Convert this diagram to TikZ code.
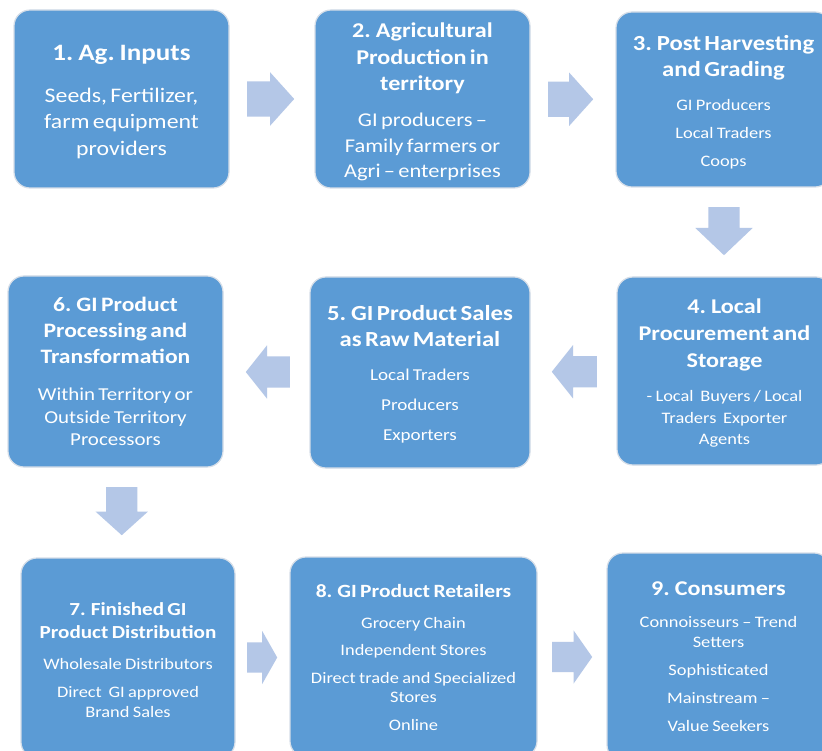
\documentclass[tikz,border=0pt]{standalone}
\usepackage{fontspec}
\setmainfont{Carlito}[FakeStretch=1.15]
\usetikzlibrary{shapes.arrows, positioning, calc}

\definecolor{stageblue}{HTML}{5B9BD5}
\definecolor{arrowblue}{HTML}{B4C7E7}
\definecolor{stageedge}{HTML}{D6DEE8}

\tikzset{
	stage/.style={rectangle, rounded corners=16pt, fill=stageblue, draw=stageedge, line width=1.2pt,
		text=white, align=center, inner sep=0pt, execute at begin node=\setlength{\parindent}{0pt}},
	flowarrow/.style={single arrow, fill=arrowblue, draw=none, inner xsep=0pt, inner ysep=17.5pt,
		minimum width=0pt, single arrow head extend=9pt, single arrow tip angle=96, anchor=tail}
}

\begin{document}
\begin{tikzpicture}[x=1pt, y=-1pt]
			\fill[white] (0,0) rectangle (822,751);
			\useasboundingbox (0,0) rectangle (822,751);
			
			% Row 1
			\node[stage, minimum width=215pt, minimum height=178pt, text width=205pt] (inputs) at (121.5, 99) {%
				{\fontsize{23.5}{26.5}\selectfont\bfseries 1. Ag. Inputs\par}\vspace{15.5pt}
				{\fontsize{20.7}{26.5}\selectfont Seeds, Fertilizer,\\ farm equipment\\ providers\par}\vspace{-6pt}};
			\node[stage, minimum width=215pt, minimum height=178pt, text width=205pt] (production) at (422.5, 99) {%
				{\fontsize{21}{26.5}\selectfont\bfseries 2. Agricultural\\ Production in\\ territory\par}\vspace{10.5pt}
				{\fontsize{19.5}{25.5}\selectfont GI producers –\\ Family farmers or\\ Agri – enterprises\par}\vspace{-6pt}};
			\node[stage, minimum width=215pt, minimum height=175pt, text width=205pt] (harvest) at (723.5, 99.5) {%
				{\fontsize{21.5}{26}\selectfont\bfseries 3. Post Harvesting\\ and Grading\par}\vspace{14.5pt}
				{\fontsize{16}{19.5}\selectfont GI Producers\par\vspace{8.5pt}Local Traders\par\vspace{8.5pt}Coops\par}\vspace{-6pt}};
			
			% Row 2
			\node[stage, minimum width=215pt, minimum height=188pt, text width=205pt] (storage) at (724.5, 371) {%
				{\fontsize{21}{27}\selectfont\bfseries 4. Local\\ Procurement and\\ Storage\par}\vspace{12.5pt}
				{\fontsize{16}{21.5}\selectfont - Local~ Buyers / Local\\ Traders~ Exporter\\ Agents\par}\vspace{-5pt}};
			\node[stage, minimum width=220pt, minimum height=191pt, text width=210pt] (rawsales) at (420, 372.5) {%
				{\fontsize{21.5}{26}\selectfont\bfseries 5. GI Product Sales\\ as Raw Material\par}\vspace{14pt}
				{\fontsize{16.6}{20}\selectfont Local Traders\par\vspace{10pt}Producers\par\vspace{10pt}Exporters\par}\vspace{-3pt}};
			\node[stage, minimum width=215pt, minimum height=191pt, text width=205pt] (processing) at (115.5, 371.5) {%
				{\fontsize{20.5}{26}\selectfont\bfseries 6. GI Product\\ Processing and\\ Transformation\par}\vspace{14.5pt}
				{\fontsize{18.2}{22.5}\selectfont Within Territory or\\ Outside Territory\\ Processors\par}};
			
			% Row 3
			\node[stage, minimum width=214pt, minimum height=200pt, text width=204pt] (distribution) at (128, 658) {%
				{\fontsize{18.4}{23}\selectfont\bfseries 7. Finished GI\\ Product Distribution\par}\vspace{11pt}
				{\fontsize{16}{20}\selectfont Wholesale Distributors\par\vspace{8pt}Direct~ GI approved\\ Brand Sales\par}\vspace{-5pt}};
			\node[stage, minimum width=247pt, minimum height=200pt, text width=237pt] (retail) at (413.5, 657) {%
				{\fontsize{18.7}{23}\selectfont\bfseries 8. GI Product Retailers\par}\vspace{11.5pt}
				{\fontsize{16}{19.5}\selectfont Grocery Chain\par\vspace{8pt}Independent Stores\par\vspace{8pt}%
				Direct trade and Specialized\\ Stores\par\vspace{8pt}Online\par}};
			\node[stage, minimum width=223pt, minimum height=208pt, text width=213pt] (consumers) at (718.5, 657) {%
				{\fontsize{21}{25}\selectfont\bfseries 9. Consumers\par}\vspace{12pt}
				{\fontsize{16}{20}\selectfont Connoisseurs – Trend\\ Setters\par\vspace{8pt}Sophisticated\par\vspace{8pt}%
				Mainstream –\par\vspace{8pt}Value Seekers\par}};
			
			% Block arrows between the stages (placed by their tails)
			\node[flowarrow, minimum height=47pt] (a12) at ($(inputs.east)!0.5!(production.west) + (-25,0)$) {};
			\node[flowarrow, minimum height=45pt] (a23) at ($(production.east)!0.5!(harvest.west) + (-25,0)$) {};
			\node[flowarrow, minimum height=48pt, inner ysep=15.5pt, single arrow head extend=13pt,
				single arrow tip angle=93, rotate=-90] (a34) at ($(harvest.south)!0.5!(storage.north) + (0,-25)$) {};
			\node[flowarrow, minimum height=45pt, inner ysep=15.5pt, single arrow head extend=11pt,
				single arrow tip angle=103, rotate=180] (a45) at ($(storage.west)!0.5!(rawsales.east) + (23.5,0)$) {};
			\node[flowarrow, minimum height=44pt, inner ysep=15.5pt, single arrow head extend=11pt,
				single arrow tip angle=103, rotate=180] (a56) at ($(rawsales.west)!0.5!(processing.east) + (23.5,0)$) {};
			\node[flowarrow, minimum height=48pt, inner ysep=15.5pt, single arrow head extend=10.5pt,
				rotate=-90] (a67) at ($(processing.south)!0.5!(distribution.north) + (0,-25.5)$) {};
			\node[flowarrow, minimum height=30pt, inner ysep=15pt, single arrow head extend=11.5pt,
				single arrow tip angle=121] (a78) at ($(distribution.east)!0.5!(retail.west) + (-15.5,0)$) {};
			\node[flowarrow, minimum height=40pt, inner ysep=15pt, single arrow head extend=11.5pt,
				single arrow tip angle=110] (a89) at ($(retail.east)!0.5!(consumers.west) + (-20,0)$) {};
		\end{tikzpicture}
\end{document}
